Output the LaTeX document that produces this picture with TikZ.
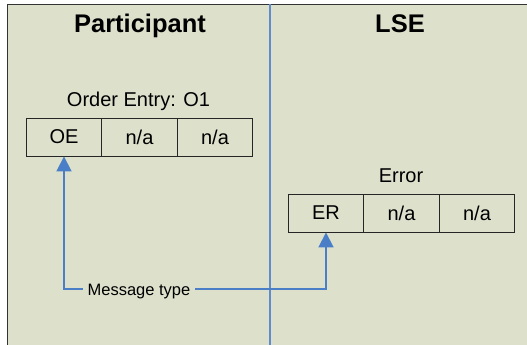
\documentclass[tikz,border=0pt]{standalone}
\usepackage{fontspec}
\setmainfont{Liberation Sans}
\usetikzlibrary{arrows.meta}
\definecolor{lanebg}{RGB}{221,225,204}
\definecolor{flowblue}{RGB}{74,126,199}
\definecolor{laneblue}{RGB}{96,140,204}
\begin{document}
\begin{tikzpicture}[x=1pt, y=-1pt, node distance=75.5pt,
    cell/.style={draw=black!85, line width=0.9pt, minimum width=75.5pt, minimum height=38pt, inner sep=0pt, font=\fontsize{20}{24}\selectfont},
    head/.style={anchor=base, font=\fontsize{25.5}{30}\selectfont\bfseries},
    caption/.style={anchor=base, font=\fontsize{20}{24}\selectfont},
    msg/.style={minimum width=112pt, inner sep=0pt, text height=12pt, text depth=0pt, font=\fontsize{16.5}{20}\selectfont},
    flow/.style={draw=flowblue, line width=1.8pt, -{Triangle[width=15pt, length=15pt]}}]
    \useasboundingbox (0,0) rectangle (527,345);
    \fill[lanebg] (7.5,4.5) rectangle (527,345);
    \draw[black!80, line width=1.5pt] (7.5,345) -- (7.5,4.5) -- (527,4.5);
    \draw[laneblue, line width=1.2pt] (270,4.5) -- (270,345);
    \node[head] (partic) at (140,33) {Participant};
    \node[head] (lse) at (400,33) {LSE};
    \node[caption] (oetitle) at (138.5,106) {Order Entry: O1};
    \node[cell] (oe) at (64,137) {OE};
    \node[cell, right of=oe] (oena1) {n/a};
    \node[cell, right of=oena1] (oena2) {n/a};
    \node[caption] (ertitle) at (401,182) {Error};
    \node[cell] (er) at (326,213) {ER};
    \node[cell, right of=er] (erna1) {n/a};
    \node[cell, right of=erna1] (erna2) {n/a};
    \node[msg] (msg) at (139,289) {Message type};
    \draw[flow] (msg.west) -| (oe.south);
    \draw[flow] (msg.east) -| (er.south);
\end{tikzpicture}
\end{document}
